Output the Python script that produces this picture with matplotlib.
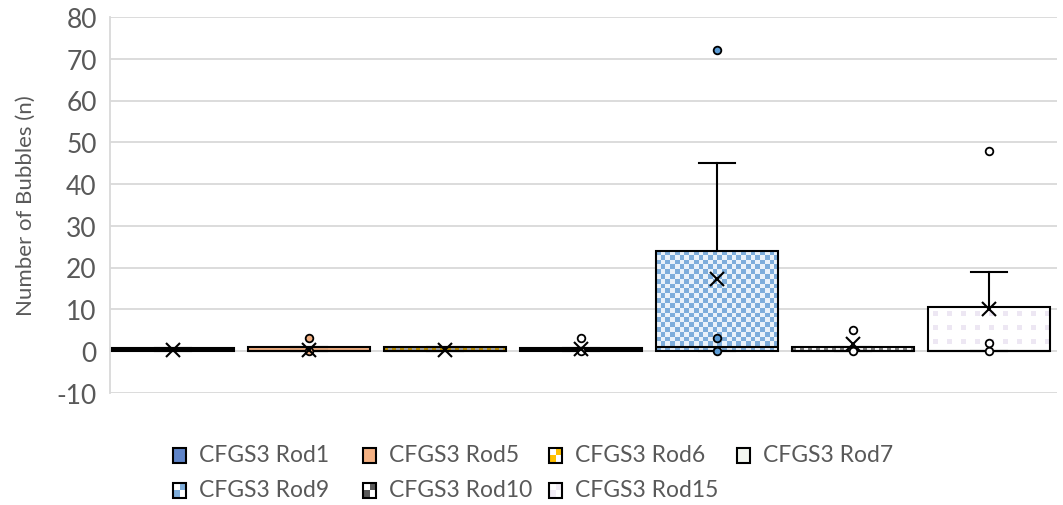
import numpy as np
import matplotlib
matplotlib.use("Agg")
import matplotlib.pyplot as plt
from matplotlib.patches import Rectangle
from matplotlib.colors import to_rgb

# ---------------- data ----------------
categories = ["CFGS3 Rod1", "CFGS3 Rod5", "CFGS3 Rod6", "CFGS3 Rod7",
              "CFGS3 Rod9", "CFGS3 Rod10", "CFGS3 Rod15"]
q1 = [0, 0, 0, 0, 0, 0, 0]
medians = [0.35, 0, 0, 0.35, 1, 0, 0]
q3 = [0.7, 1, 1, 0.7, 24, 1, 10.5]
whisk_lo = [0, 0, 0, 0, 0, 0, 0]
whisk_hi = [0.7, 1, 1, 0.7, 45, 1, 19]
means = [0.2, 0.3, 0.2, 0.5, 17.2, 1.7, 10]
points = [[], [0, 3], [], [0, 3], [0, 3, 72], [0, 5], [0, 2, 48]]
yticks = [-10, 0, 10, 20, 30, 40, 50, 60, 70, 80]

# ---------------- style ----------------
face = ["#4472C4", "#F4B183", None, "#FFFFFF", None, None, None]
flier_face = ["#4472C4", "#F4B183", "#FFC000", "#FFFFFF", "#5B9BD5", "#FFFFFF", "#FFFFFF"]
# pattern: (kind, color_a, color_b, cell_px)
patterns = {2: ("checker", "#BF9000", "#A6A6A6", 4.0),
            4: ("checker", "#7EADDB", "#EAF2FA", 4.7),
            5: ("checker", "#808080", "#FFFFFF", 4.0),
            6: ("dots", "#EDE7F3", "#FFFFFF", 14.0)}
legend_swatch = [("#5F84C8", "#5F84C8"), ("#F4B183", "#F4B183"),
                 ("#FFC000", "#FFFFFF"), ("#F3F7F0", "#F3F7F0"),
                 ("#7EADDB", "#FFFFFF"), ("#595959", "#FFFFFF"),
                 ("#F3EEF7", "#FFFFFF")]

plt.rcParams['font.family'] = ['Lato', 'DejaVu Sans']
plt.rcParams['axes.unicode_minus'] = False
TXT = "#595959"
GRID = "#D9D9D9"

W, H = 1063, 506
fig = plt.figure(figsize=(W / 100, H / 100), dpi=100)
ax_l, ax_r = 110, 1057
ax_t, ax_b = 18, 393.75
ax = fig.add_axes([ax_l / W, 1 - ax_b / H, (ax_r - ax_l) / W, (ax_b - ax_t) / H])

slot_px = 136.0
x0 = -(173 - ax_l) / slot_px
x1 = x0 + (ax_r - ax_l) / slot_px
ymin, ymax = -10, 80
px_per_y = (ax_b - ax_t) / (ymax - ymin)

positions = np.arange(len(categories))
box_w = 0.904
cap_w = 0.272

stats = []
for i, lab in enumerate(categories):
    stats.append(dict(label=lab, q1=q1[i], med=medians[i], q3=q3[i],
                      whislo=whisk_lo[i], whishi=whisk_hi[i],
                      mean=means[i], fliers=np.array(points[i], dtype=float)))

lw = 1.5
res = ax.bxp(stats, positions=positions, widths=box_w, capwidths=cap_w,
             patch_artist=True, showmeans=True, showfliers=True,
             boxprops=dict(linewidth=lw, edgecolor="black"),
             whiskerprops=dict(linewidth=lw, color="black"),
             capprops=dict(linewidth=lw, color="black"),
             medianprops=dict(linewidth=lw, color="black"),
             meanprops=dict(marker="x", markersize=10, markeredgewidth=1.5,
                            markeredgecolor="black", markerfacecolor="black"),
             flierprops=dict(marker="o", markersize=5.5, markeredgewidth=1.3,
                             markeredgecolor="black"),
             zorder=3)

for i, b in enumerate(res["boxes"]):
    b.set_zorder(3)
    if face[i] is not None:
        b.set_facecolor(face[i])
    else:
        b.set_facecolor("none")
for i, f in enumerate(res["fliers"]):
    f.set_markerfacecolor(flier_face[i])
    f.set_zorder(5)
for m in res["means"]:
    m.set_zorder(6)

# patterned fills drawn as images inside the boxes
for i, (kind, ca, cb, cell) in patterns.items():
    left, right = positions[i] - box_w / 2, positions[i] + box_w / 2
    bot, top = q1[i], q3[i]
    wpx = box_w * slot_px
    hpx = (top - bot) * px_per_y
    a, bcol = np.array(to_rgb(ca)), np.array(to_rgb(cb))
    if kind == "checker":
        nc = max(1, int(round(wpx / cell)))
        nr = max(1, int(round(hpx / cell)))
        yy, xx = np.indices((nr, nc))
        mask = ((xx + yy) % 2 == 0)
    else:
        nc = int(round(wpx))
        nr = max(1, int(round(hpx)))
        yy, xx = np.indices((nr, nc))
        mask = ((xx % int(cell)) >= 5) & ((xx % int(cell)) < 10) & \
               ((yy % int(cell)) >= 4) & ((yy % int(cell)) < 9)
    img = np.where(mask[..., None], a, bcol)
    ax.imshow(img, extent=(left, right, bot, top), origin="upper",
              aspect="auto", interpolation="nearest", zorder=2.5)

ax.set_xlim(x0, x1)
ax.set_ylim(ymin, ymax)
ax.set_yticks(yticks)
ax.set_xticks([])
ax.yaxis.grid(True, color=GRID, linewidth=1.3)
ax.set_axisbelow(True)
for s in ["top", "right", "bottom"]:
    ax.spines[s].set_visible(False)
ax.spines["left"].set_color(GRID)
ax.spines["left"].set_linewidth(1.3)
ax.tick_params(axis="y", length=0, pad=9.5, labelsize=19, labelcolor=TXT)
ax.set_ylabel("Number of Bubbles (n)", fontsize=16, color=TXT, va="center")
ax.yaxis.set_label_coords((26 - ax_l) / (ax_r - ax_l), (ax_b - 206) / (ax_b - ax_t))

# legend (Excel-style equal-width columns)
col_x = [173, 363, 549, 737]
row_y = [456, 491]
sq_w, sq_h = 13, 15
for i, lab in enumerate(categories):
    c, r = i % 4, i // 4
    lx, cy = col_x[c], row_y[r]
    ca, cb = legend_swatch[i]
    hw, hh = sq_w / 2, sq_h / 2
    cells = [(0, 0, cb), (1, 0, ca), (0, 1, ca), (1, 1, ca if ca == cb else cb)]
    for (cx, ry, col) in cells:
        fig.patches.append(Rectangle(((lx + cx * hw) / W, 1 - (cy - hh + (ry + 1) * hh) / H),
                                     hw / W, hh / H, transform=fig.transFigure,
                                     facecolor=col, edgecolor="none"))
    fig.patches.append(Rectangle((lx / W, 1 - (cy + hh) / H), sq_w / W, sq_h / H,
                                 transform=fig.transFigure, facecolor="none",
                                 edgecolor="black", linewidth=1.5))
    fig.text((lx + 26) / W, 1 - cy / H, lab, fontsize=16.5, color=TXT,
             ha="left", va="center")

fig.savefig("out.png", dpi=100)
